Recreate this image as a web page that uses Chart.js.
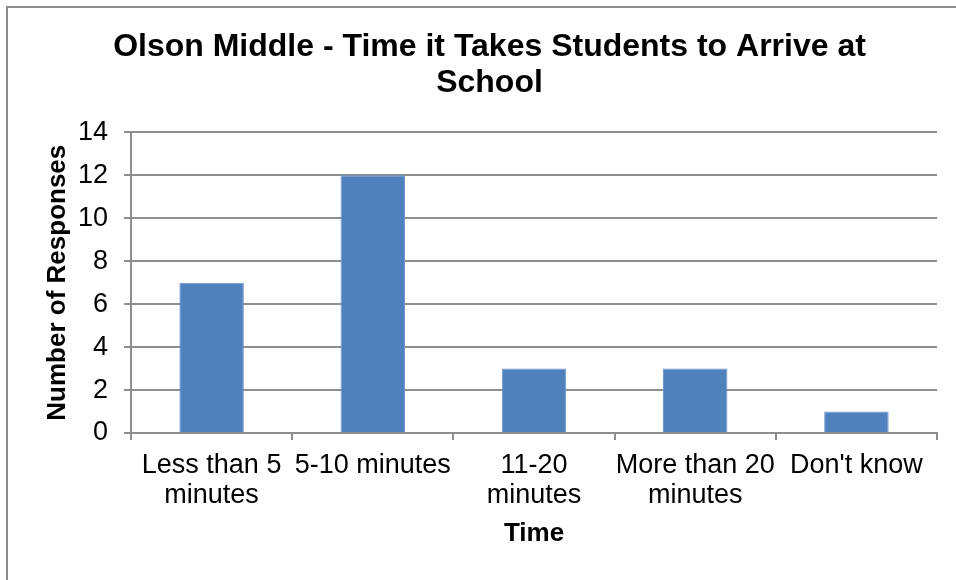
<!DOCTYPE html>
<html>
<head>
<meta charset="utf-8">
<script src="https://cdn.jsdelivr.net/npm/chart.js@4"></script>
<style>
  body { margin: 0; background: #fff; }
</style>
</head>
<body>
<canvas id="myChart" width="956" height="580"></canvas>
<script>
// categories and counts
var categories = [
    ['Less than 5', 'minutes'],
    '5-10 minutes',
    ['11-20', 'minutes'],
    ['More than 20', 'minutes'],
    "Don't know"
];
var responses = [7, 12, 3, 3, 1];
var yTicks = [0, 2, 4, 6, 8, 10, 12, 14];

var titleLines = ['Olson Middle - Time it Takes Students to Arrive at', 'School'];
var gridGray = '#8e8e8e';
var fontFamily = "'Liberation Sans', Arial, sans-serif";

// white background plus the outer frame
var frame = {
    id: 'frame',
    beforeDraw: function(chart) {
        var c = chart.ctx;
        c.save();
        c.fillStyle = '#fff';
        c.fillRect(0, 0, chart.width, chart.height);
        c.strokeStyle = '#8c8c8c';
        c.lineWidth = 2;
        c.strokeRect(7, 7, chart.width + 20, chart.height + 20);
        c.restore();
    }
};

document.addEventListener('DOMContentLoaded', function() {
    var ctx = document.getElementById('myChart').getContext('2d');
    var myChart = new Chart(ctx, {
        type: 'bar',
        data: {
            labels: categories,
            datasets: [{
                data: responses,
                backgroundColor: '#4F81BD',
                borderColor: '#6b95cc',
                borderWidth: 1,
                barPercentage: 0.4,
                categoryPercentage: 1
            }]
        },
        plugins: [frame],
        options: {
            responsive: false,
            animation: false,
            layout: { padding: { left: 42, right: 19, top: 0, bottom: 4 } },
            plugins: {
                legend: { display: false },
                tooltip: { enabled: false },
                title: {
                    display: true,
                    text: titleLines,
                    color: '#000',
                    font: { family: fontFamily, size: 32, weight: 'bold', lineHeight: 1.1 },
                    padding: { top: 30, bottom: 32 }
                }
            },
            scales: {
                x: {
                    offset: true,
                    afterFit: function(axis) { axis.height = 143; },
                    grid: {
                        display: true,
                        drawOnChartArea: false,
                        offset: true,
                        color: gridGray,
                        lineWidth: 2,
                        tickLength: 7
                    },
                    border: { display: true, color: gridGray, width: 2 },
                    ticks: {
                        color: '#000',
                        padding: 10,
                        maxRotation: 0,
                        autoSkip: false,
                        font: { family: fontFamily, size: 27, lineHeight: 1.13 }
                    },
                    title: {
                        display: true,
                        text: 'Time',
                        color: '#000',
                        font: { family: fontFamily, size: 26, weight: 'bold', lineHeight: 1.2 },
                        padding: { top: 0, bottom: 27 }
                    }
                },
                y: {
                    min: 0,
                    max: 14,
                    afterFit: function(axis) { axis.width = 89; },
                    afterBuildTicks: function(axis) {
                        axis.ticks = yTicks.map(function(v) { return { value: v }; });
                    },
                    grid: {
                        color: gridGray,
                        lineWidth: 2,
                        tickLength: 7
                    },
                    border: { display: true, color: gridGray, width: 2 },
                    ticks: {
                        color: '#000',
                        padding: 16,
                        font: { family: fontFamily, size: 27 }
                    },
                    title: {
                        display: true,
                        text: 'Number of Responses',
                        color: '#000',
                        font: { family: fontFamily, size: 26, weight: 'bold', lineHeight: 1.2 },
                        padding: { top: 0, bottom: 0 }
                    }
                }
            }
        }
    });
});
</script>
</body>
</html>
